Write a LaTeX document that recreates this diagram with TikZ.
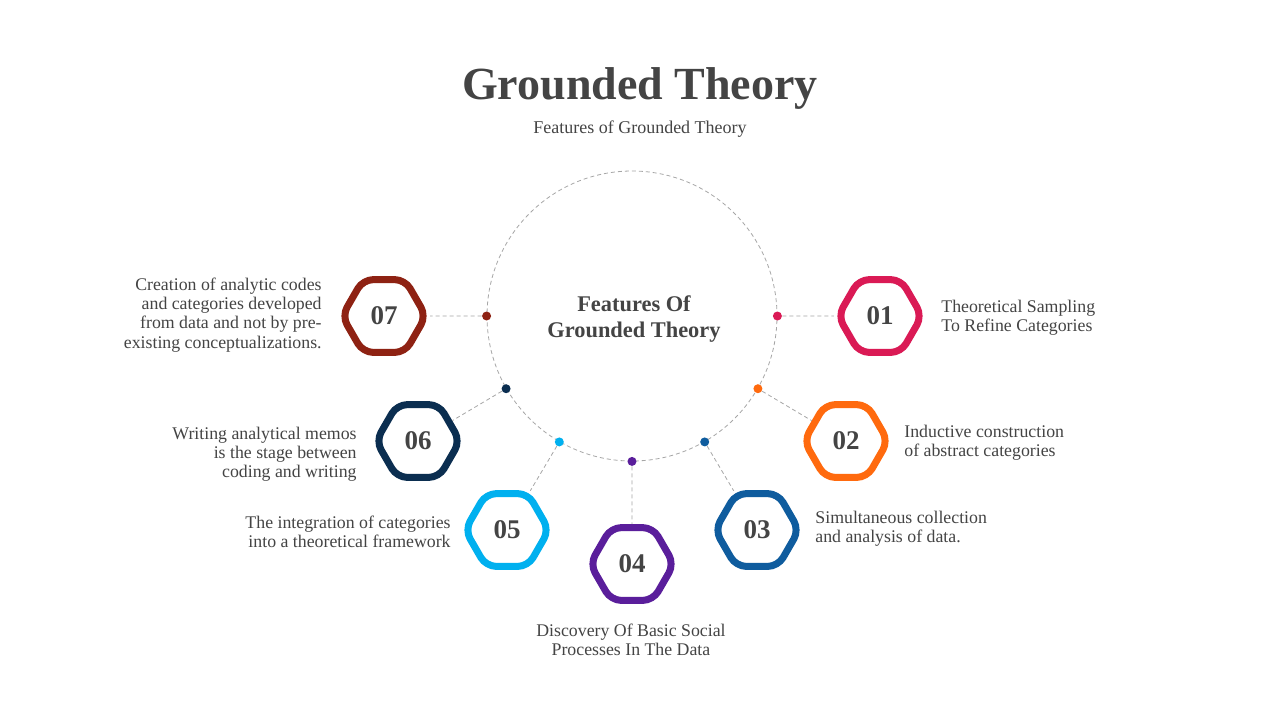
\documentclass[tikz,border=0pt]{standalone}
\usepackage{fontspec}
\setmainfont{Liberation Serif}
\usetikzlibrary{shapes.geometric}
\definecolor{cOne}{HTML}{DA1A55}
\definecolor{cTwo}{HTML}{FF6A0E}
\definecolor{cThree}{HTML}{0F5C9E}
\definecolor{cFour}{HTML}{5A1E9B}
\definecolor{cFive}{HTML}{00B0EF}
\definecolor{cSix}{HTML}{0B2E50}
\definecolor{cSeven}{HTML}{8E2213}
\definecolor{txtgray}{HTML}{444444}
\begin{document}
\begin{tikzpicture}[x=0.5pt, y=-0.5pt,
  hex/.style={draw=#1, line width=3.5pt, regular polygon, regular polygon sides=6, minimum size=42pt, inner sep=0pt, rounded corners=5pt, text=txtgray, font=\bfseries\fontsize{13.5}{14}\selectfont},
  dot/.style={circle, fill=#1, inner sep=0pt, minimum size=4.5pt},
  ring/.style={circle, draw=gray!70, dash pattern=on 2pt off 1.5pt, line width=0.4pt, minimum size=145pt, inner sep=0pt},
  lnk/.style={draw=gray!70, dash pattern=on 2pt off 1.5pt, line width=0.4pt},
  desc/.style={text=txtgray, inner sep=0pt, font=\fontsize{8.9}{9.6}\selectfont, align=#1}]
\useasboundingbox[fill=white] (0,0) rectangle (1280,720);
% title
\node[text=txtgray, font=\bfseries\fontsize{23}{23}\selectfont] (title) at (640,88) {Grounded Theory};
\node[text=txtgray, font=\fontsize{9}{9}\selectfont] (subtitle) at (640,129) {Features of Grounded Theory};
% ring and centre
\node[ring] (ring) at (632,316) {};
\node[text=txtgray, align=center, font=\bfseries\fontsize{11.2}{13}\selectfont] (centre) at (634,319) {Features Of\\Grounded Theory};
% dots on the ring
\node[dot=cOne] (d1) at (ring.0) {}; \node[dot=cTwo] (d2) at (ring.-30) {}; \node[dot=cThree] (d3) at (ring.-60) {};
\node[dot=cFour] (d4) at (ring.-90) {}; \node[dot=cFive] (d5) at (ring.-120) {}; \node[dot=cSix] (d6) at (ring.-150) {};
\node[dot=cSeven] (d7) at (ring.180) {};
% hexagons
\node[hex=cOne] (h1) at (880,316) {01}; \node[hex=cTwo] (h2) at (846,441) {02}; \node[hex=cThree] (h3) at (757,530) {03};
\node[hex=cFour] (h4) at (632,564) {04}; \node[hex=cFive] (h5) at (507,530) {05}; \node[hex=cSix] (h6) at (418,441) {06};
\node[hex=cSeven] (h7) at (384,316) {07};
\draw[lnk] (d1)--(h1) (d2)--(h2) (d3)--(h3) (d4)--(h4) (d5)--(h5) (d6)--(h6) (d7)--(h7);
% descriptions
\node[desc=left, anchor=west] (t1) at (941,318) {Theoretical Sampling\\To Refine Categories};
\node[desc=left, anchor=west] (t2) at (904,443) {Inductive construction\\of abstract categories};
\node[desc=left, anchor=west] (t3) at (815,529) {Simultaneous collection\\and analysis of data.};
\node[desc=center] (t4) at (631,640) {Discovery Of Basic Social\\Processes In The Data};
\node[desc=right, anchor=east] (t5) at (451,532) {The integration of categories\\into a theoretical framework};
\node[desc=right, anchor=east] (t6) at (357,454) {Writing analytical memos\\is the stage between\\coding and writing};
\node[desc=right, anchor=east] (t7) at (322,315) {Creation of analytic codes\\and categories developed\\from data and not by pre-\\existing conceptualizations.};
\end{tikzpicture}
\end{document}
